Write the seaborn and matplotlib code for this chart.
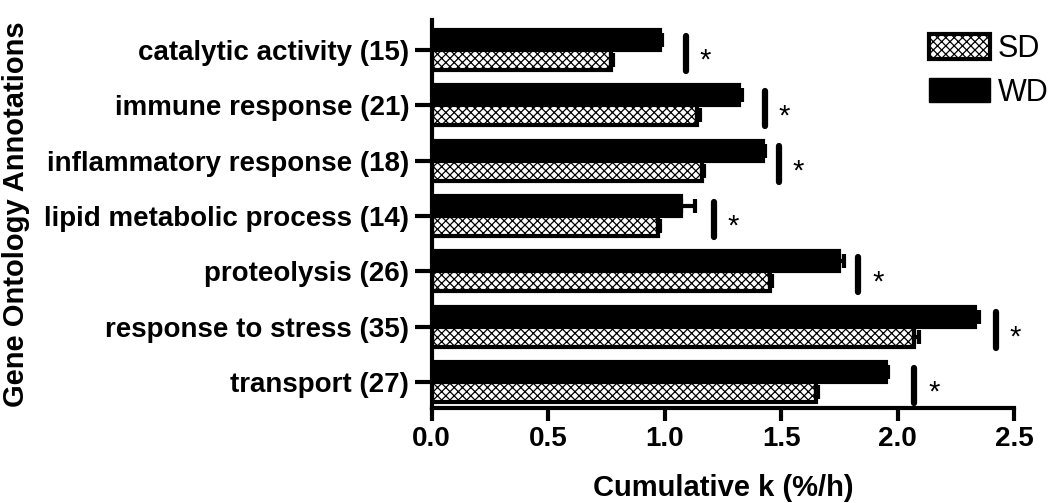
import numpy as np
import pandas as pd
import matplotlib
matplotlib.use('Agg')
import matplotlib.pyplot as plt
import seaborn as sns
from matplotlib.patches import Patch

# dados
categories = ['catalytic activity (15)', 'immune response (21)', 'inflammatory response (18)',
              'lipid metabolic process (14)', 'proteolysis (26)', 'response to stress (35)',
              'transport (27)']
wd_values = [0.98, 1.32, 1.42, 1.07, 1.75, 2.33, 1.95]
wd_err = [0.01, 0.01, 0.01, 0.06, 0.02, 0.02, 0.01]
sd_values = [0.77, 1.14, 1.16, 0.97, 1.45, 2.07, 1.65]
sd_err = [0.01, 0.01, 0.01, 0.01, 0.01, 0.02, 0.01]
sig_x = [1.09, 1.43, 1.49, 1.21, 1.83, 2.42, 2.07]
x_ticks = [0.0, 0.5, 1.0, 1.5, 2.0, 2.5]

df = pd.DataFrame({
    'category': categories * 2,
    'k': wd_values + sd_values,
    'err': wd_err + sd_err,
    'group': ['WD'] * len(categories) + ['SD'] * len(categories),
})

sns.set_style('ticks')
plt.rcParams['font.family'] = ['Liberation Sans', 'DejaVu Sans']
plt.rcParams['hatch.linewidth'] = 0.9
plt.rcParams['text.color'] = 'black'
plt.rcParams['axes.labelcolor'] = 'black'
plt.rcParams['xtick.color'] = 'black'
plt.rcParams['ytick.color'] = 'black'
plt.rcParams['axes.edgecolor'] = 'black'

fig, ax = plt.subplots(figsize=(10.5, 5.03), dpi=100)
sns.barplot(data=df, y='category', x='k', hue='group', hue_order=['WD', 'SD'],
            order=categories, orient='h', errorbar=None, width=0.72,
            palette={'WD': 'black', 'SD': 'white'}, edgecolor='black',
            linewidth=3, legend=False, ax=ax)

# hachura no SD + barras de erro (apenas lado positivo)
n = len(categories)
for i, bar in enumerate(ax.patches[:2 * n]):
    yc = bar.get_y() + bar.get_height() / 2
    w = bar.get_width()
    e = df['err'].iloc[i]
    if i >= n:
        bar.set_hatch('xxxx')
    ax.errorbar(w, yc, xerr=[[0], [e]], fmt='none', ecolor='black',
                elinewidth=3, capsize=5, capthick=3)

# marcas de significancia
for i, xs in enumerate(sig_x):
    ax.plot([xs, xs], [i - 0.26, i + 0.38], color='black', lw=4.5,
            solid_capstyle='round')
    ax.text(xs + 0.06, i + 0.2, '*', fontsize=21, ha='left', va='center')

ax.set_xlim(0, 2.5)
ax.set_ylim(6.47, -0.54)
ax.set_xticks(x_ticks)
ax.set_xticklabels([f'{t:.1f}' for t in x_ticks])
ax.set_xlabel('Cumulative k (%/h)', fontsize=21, fontweight='bold', labelpad=16)
ax.set_ylabel('Gene Ontology Annotations', fontsize=21, fontweight='bold')
ax.yaxis.set_label_coords((31 - 432) / 582, 0.5)
ax.tick_params(axis='both', labelsize=20, width=3, length=9, pad=4)
ax.tick_params(axis='y', length=12, pad=4)
for t in ax.get_xticklabels() + ax.get_yticklabels():
    t.set_fontweight('bold')
sns.despine(ax=ax)
for s in ['left', 'bottom']:
    ax.spines[s].set_linewidth(3)

handles = [Patch(facecolor='white', edgecolor='black', hatch='xxxx', lw=3, label='SD'),
           Patch(facecolor='black', edgecolor='black', label='WD')]
leg = ax.legend(handles=handles, loc='upper left', bbox_to_anchor=(929 / 1050, 1 - 34 / 503),
                bbox_transform=fig.transFigure, borderaxespad=0, borderpad=0,
                frameon=False, fontsize=22, handlelength=2.0, handleheight=0.85,
                labelspacing=0.45, handletextpad=0.25)

fig.subplots_adjust(left=0.411, right=0.966, top=0.960, bottom=0.189)
fig.savefig('out.png', dpi=100)
